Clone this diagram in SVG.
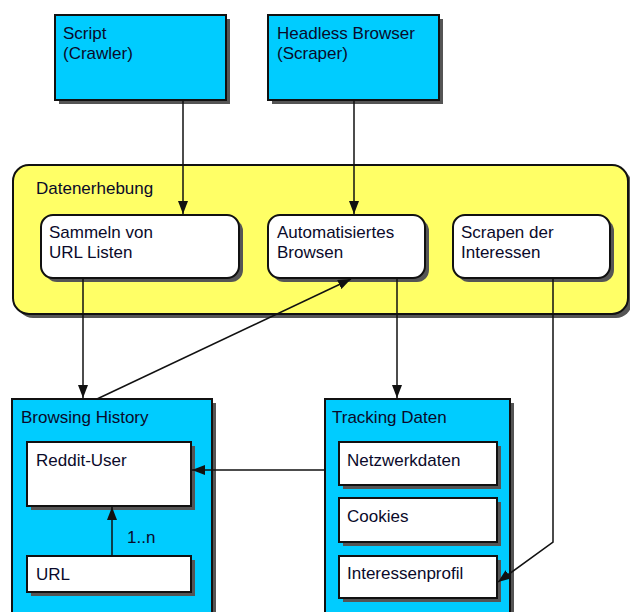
<svg xmlns="http://www.w3.org/2000/svg" width="630" height="612" viewBox="0 0 630 612">
<defs>
<style>
text{font-family:"Liberation Sans",Arial,sans-serif;font-size:17px;fill:#0a0a2a}
.sh{fill:#555}
.cy{fill:#00ccff;stroke:#111;stroke-width:2}
.yl{fill:#ffff66;stroke:#111;stroke-width:2}
.wh{fill:#fff;stroke:#111;stroke-width:2}
.ln{fill:none;stroke:#111;stroke-width:1.5}
</style>
<marker id="ah" markerUnits="userSpaceOnUse" markerWidth="13" markerHeight="10" refX="13" refY="5" orient="auto">
<path d="M0,0 L13,5 L0,10 Z" fill="#111"/>
</marker>
</defs>
<rect width="630" height="612" fill="#fff"/>

<g id="datenerhebung">
<rect class="sh" x="17" y="169" width="615" height="149" rx="16"/>
<rect class="yl" x="13" y="165" width="615" height="149" rx="16"/>
<text x="36" y="194">Datenerhebung</text>
</g>

<g id="script">
<rect class="sh" x="59" y="19" width="171" height="85"/>
<rect class="cy" x="55" y="15" width="171" height="85"/>
<text x="63" y="39">Script</text>
<text x="63" y="59">(Crawler)</text>
</g>

<g id="headless">
<rect class="sh" x="272" y="19" width="171" height="85"/>
<rect class="cy" x="268" y="15" width="171" height="85"/>
<text x="277" y="39">Headless Browser</text>
<text x="277" y="59">(Scraper)</text>
</g>

<g id="sammeln">
<rect class="sh" x="45" y="219" width="198" height="63" rx="12"/>
<rect class="wh" x="41" y="215" width="198" height="63" rx="12"/>
<text x="49" y="238">Sammeln von</text>
<text x="49" y="258">URL Listen</text>
</g>

<g id="automatisiert">
<rect class="sh" x="272" y="219" width="157" height="63" rx="12"/>
<rect class="wh" x="268" y="215" width="157" height="63" rx="12"/>
<text x="277" y="238">Automatisiertes</text>
<text x="277" y="258">Browsen</text>
</g>

<g id="scrapen">
<rect class="sh" x="457" y="219" width="157" height="63" rx="12"/>
<rect class="wh" x="453" y="215" width="157" height="63" rx="12"/>
<text x="461" y="238">Scrapen der</text>
<text x="461" y="258">Interessen</text>
</g>

<g id="browsing-history">
<rect class="sh" x="16" y="403" width="200" height="220"/>
<rect class="cy" x="12" y="399" width="200" height="220"/>
<text x="21" y="423">Browsing History</text>
</g>

<g id="reddit-user">
<rect class="sh" x="31" y="446" width="164" height="64"/>
<rect class="wh" x="27" y="442" width="164" height="64"/>
<text x="36" y="466">Reddit-User</text>
</g>

<g id="url">
<rect class="sh" x="31" y="560" width="164" height="36"/>
<rect class="wh" x="27" y="556" width="164" height="36"/>
<text x="36" y="580">URL</text>
</g>

<g id="tracking-daten">
<rect class="sh" x="329" y="403" width="185" height="220"/>
<rect class="cy" x="325" y="399" width="185" height="220"/>
<text x="332" y="423">Tracking Daten</text>
</g>

<g id="netzwerkdaten">
<rect class="sh" x="343" y="446" width="158" height="43"/>
<rect class="wh" x="339" y="442" width="158" height="43"/>
<text x="347" y="466">Netzwerkdaten</text>
</g>

<g id="cookies">
<rect class="sh" x="343" y="502" width="158" height="44"/>
<rect class="wh" x="339" y="498" width="158" height="44"/>
<text x="347" y="522">Cookies</text>
</g>

<g id="interessenprofil">
<rect class="sh" x="343" y="560" width="158" height="42"/>
<rect class="wh" x="339" y="556" width="158" height="42"/>
<text x="347" y="579">Interessenprofil</text>
</g>

<g id="connectors">
<line class="ln" x1="183" y1="100" x2="183" y2="214" marker-end="url(#ah)"/>
<line class="ln" x1="354" y1="100" x2="354" y2="214" marker-end="url(#ah)"/>
<line class="ln" x1="83" y1="278" x2="83" y2="398" marker-end="url(#ah)"/>
<line class="ln" x1="97" y1="399" x2="351" y2="279" marker-end="url(#ah)"/>
<line class="ln" x1="397" y1="278" x2="397" y2="398" marker-end="url(#ah)"/>
<line class="ln" x1="325" y1="470" x2="192" y2="470" marker-end="url(#ah)"/>
<line class="ln" x1="112" y1="556" x2="112" y2="507" stroke-width="2" marker-end="url(#ah)"/>
<text x="127" y="543">1..n</text>
<polyline class="ln" points="553,278 553,542 498,582" marker-end="url(#ah)"/>
</g>
</svg>
